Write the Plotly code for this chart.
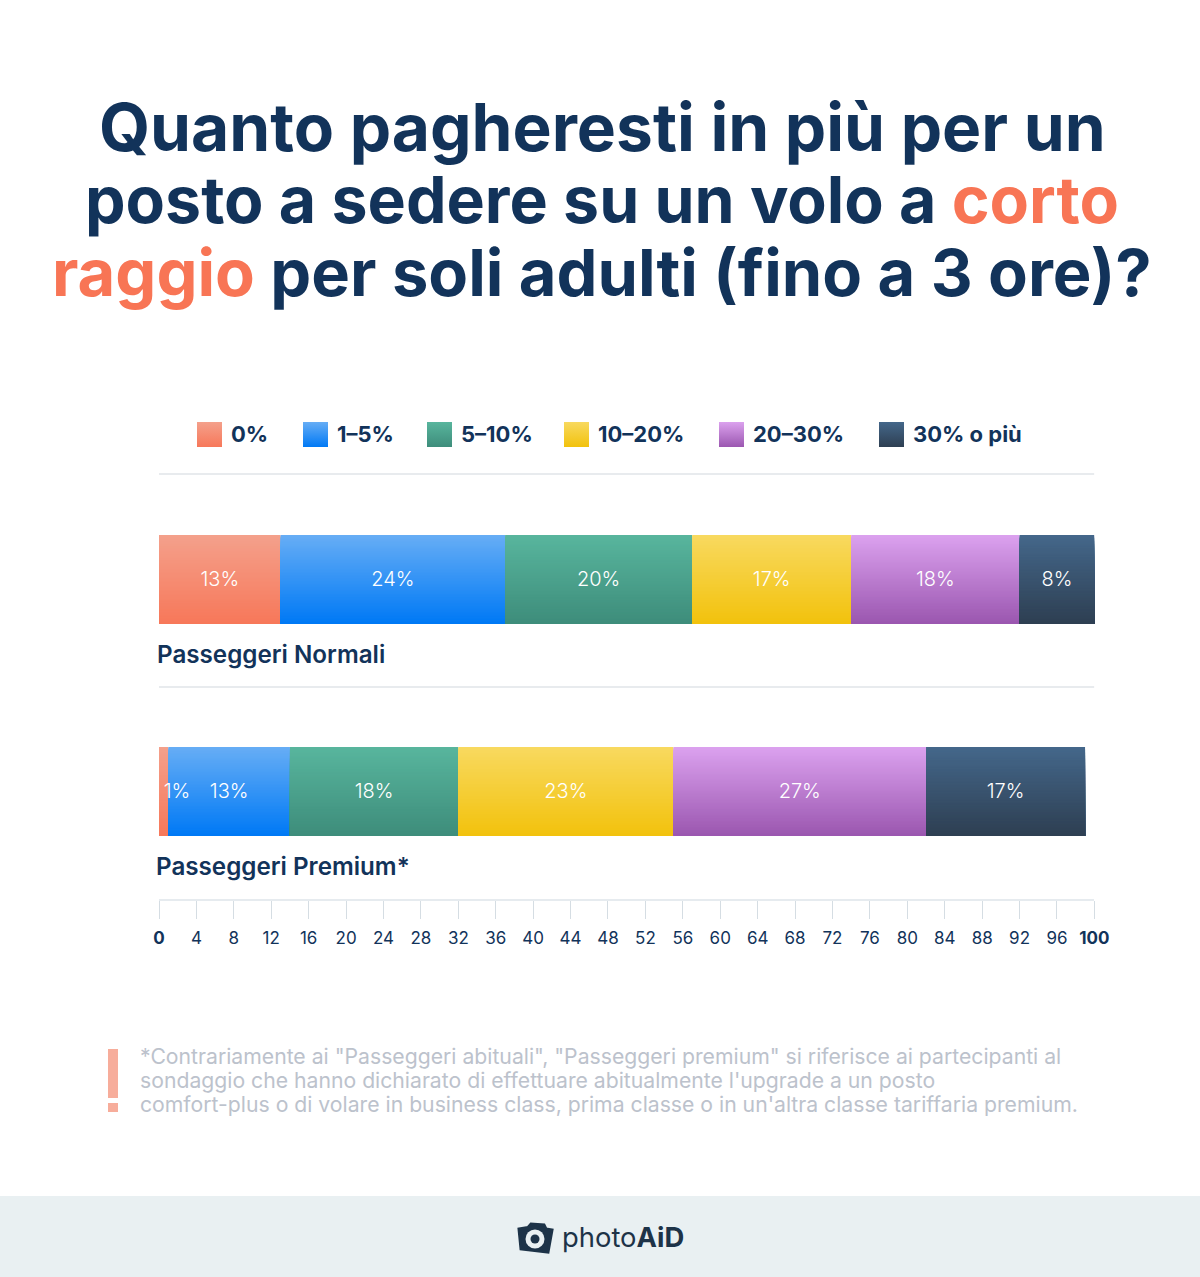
import plotly.graph_objects as go

W, H = 1200, 1277
FONT = "Inter"
NAVY = "#12335a"
ORANGE = "#f87555"

# ---- data ----
series_names = ["0%", "1–5%", "5–10%", "10–20%", "20–30%", "30% o più"]
row_names = ["Passeggeri Normali", "Passeggeri Premium*"]
normali = [13, 24, 20, 17, 18, 8]
premium = [1, 13, 18, 23, 27, 17]
grad_top = ["#f4a08b", "#66adf5", "#58b59d", "#f8d95f", "#dba1ee", "#44678a"]
grad_bot = ["#f7785a", "#0079f5", "#3e8d7b", "#f2c20d", "#9b57b0", "#2e3f52"]
tick_vals = list(range(0, 101, 4))
legend_x = [209.5, 315.5, 439.5, 576.5, 731.5, 891.5]
title_lines = [
    "Quanto pagheresti in più per un",
    f'posto a sedere su un volo a <span style="color:{ORANGE}">corto</span>',
    f'<span style="color:{ORANGE}">raggio</span> per soli adulti (fino a 3 ore)?',
]
note_lines = [
    '*Contrariamente ai "Passeggeri abituali", "Passeggeri premium" si riferisce ai partecipanti al',
    "sondaggio che hanno dichiarato di effettuare abitualmente l'upgrade a un posto",
    "comfort-plus o di volare in business class, prima classe o in un'altra classe tariffaria premium.",
]

N_SLICES = 60
BAR_H = 89 / 212
rows = [1, 0]
row_values = [normali, premium]


def px(x):
    return x / W


def py(y):
    return 1 - y / H


def hex2rgb(c):
    return [int(c[i:i + 2], 16) for i in (1, 3, 5)]


def mix(a, b, t):
    ca, cb = hex2rgb(a), hex2rgb(b)
    return "rgb(%d,%d,%d)" % tuple(round(p + (q - p) * t) for p, q in zip(ca, cb))


fig = go.Figure()

# gradient bars: each later slice covers the lower part of the one before it
for si, name in enumerate(series_names):
    xs = [vals[si] for vals in row_values]
    bases = [sum(vals[:si]) for vals in row_values]
    for k in range(N_SLICES):
        t = k / (N_SLICES - 1)
        fig.add_bar(
            x=xs, y=rows, base=bases, orientation="h",
            width=BAR_H * (N_SLICES - k) / N_SLICES, offset=-BAR_H / 2,
            marker=dict(color=mix(grad_top[si], grad_bot[si], t), line_width=0),
            showlegend=False, hoverinfo="skip", name=name,
        )

# value labels
for vals, r in zip(row_values, rows):
    mids, texts, pos = [], [], []
    for i, v in enumerate(vals):
        mids.append(sum(vals[:i]) + v / 2)
        texts.append(f"{v}%")
        pos.append("middle right" if v < 3 else "middle center")
    fig.add_scatter(
        x=mids, y=[r - 0.008] * len(vals), mode="text", text=texts, textposition=pos,
        textfont=dict(family=FONT, size=20, color="white", weight=300),
        showlegend=False, hoverinfo="skip",
    )

# legend swatches on a page-sized overlay axis
for i, name in enumerate(series_names):
    fig.add_scatter(
        x=[legend_x[i]], y=[434.5], xaxis="x2", yaxis="y2", mode="markers",
        marker=dict(symbol="square", size=25, color=grad_top[i], line_width=0,
                    gradient=dict(type="vertical", color=grad_bot[i])),
        showlegend=False, hoverinfo="skip", name=name,
    )
    fig.add_annotation(
        text=name, x=px(legend_x[i] + 19.5), y=py(434), xref="paper", yref="paper",
        xanchor="left", yanchor="middle", showarrow=False,
        font=dict(family=FONT, size=22, color=NAVY, weight=700),
    )

# row labels
for name, r, lx, ly in zip(row_names, rows, [155, 154], [654.5, 866.5]):
    fig.add_annotation(
        text=name, x=px(lx), y=py(ly), xref="paper", yref="paper",
        xanchor="left", yanchor="middle", showarrow=False,
        font=dict(family=FONT, size=24.2, color=NAVY, weight=600),
    )

# title
for line, ly, fs in zip(title_lines, [127, 200, 272], [65.8, 64.4, 65]):
    fig.add_annotation(
        text=line, x=0.502, y=py(ly), xref="paper", yref="paper",
        xanchor="center", yanchor="middle", showarrow=False,
        font=dict(family=FONT, size=fs, color=NAVY, weight=700),
    )

# footnote
for line, ly in zip(note_lines, [1056, 1080, 1104]):
    fig.add_annotation(
        text=line, x=px(138), y=py(ly), xref="paper", yref="paper",
        xanchor="left", yanchor="middle", showarrow=False,
        font=dict(family=FONT, size=21.2, color="#bcc2cc"),
    )

# logo text
fig.add_annotation(
    text="photo<b>AiD</b>", x=px(560), y=py(1237), xref="paper", yref="paper",
    xanchor="left", yanchor="middle", showarrow=False,
    font=dict(family=FONT, size=27.4, color="#1d3348"),
)


def prect(x0, y0, x1, y1, color):
    return dict(type="rect", xref="paper", yref="paper", x0=px(x0), x1=px(x1),
                y0=py(y0), y1=py(y1), fillcolor=color, line_width=0, layer="below")


def pcircle(cx, cy, r, color):
    return dict(type="circle", xref="paper", yref="paper", x0=px(cx - r), x1=px(cx + r),
                y0=py(cy + r), y1=py(cy - r), fillcolor=color, line_width=0, layer="above")


camera = [(519, 1229), (528, 1227.5), (531, 1224), (544, 1225), (546, 1229),
          (552, 1230), (548, 1252), (521, 1249)]
cam_path = "M " + " L ".join(f"{px(a):.5f},{py(b):.5f}" for a, b in camera) + " Z"

shapes = [
    prect(0, 1196, W, H, "#e9f0f2"),
    prect(108, 1049, 118, 1098, "#f7ad9b"),
    prect(108, 1103, 118, 1112, "#f7ad9b"),
    dict(type="path", xref="paper", yref="paper", path=cam_path, fillcolor="#1d3348",
         line=dict(color="#1d3348", width=3), layer="above"),
    pcircle(535, 1239, 9.5, "#e9f0f2"),
    pcircle(535, 1239, 4.5, "#1d3348"),
    dict(type="line", xref="x", yref="paper", x0=0, x1=100, y0=py(474), y1=py(474),
         line=dict(color="#e8ebee", width=2), layer="below"),
    dict(type="line", xref="x", yref="paper", x0=0, x1=100, y0=py(687), y1=py(687),
         line=dict(color="#e8ebee", width=2), layer="below"),
]

tick_text = [f"<b>{v}</b>" if v in (0, 100) else str(v) for v in tick_vals]

fig.update_layout(
    width=W, height=H, margin=dict(l=0, r=0, t=0, b=0, pad=0, autoexpand=False),
    paper_bgcolor="white", plot_bgcolor="rgba(0,0,0,0)", barmode="overlay",
    showlegend=False, shapes=shapes,
    xaxis=dict(
        domain=[px(159), px(1094.4)], range=[0, 100], tickmode="array",
        tickvals=tick_vals, ticktext=tick_text, ticks="outside", ticklen=18,
        tickcolor="#d5dde3", tickwidth=1, showgrid=False, zeroline=False,
        showline=True, linecolor="#e6ebef", linewidth=2,
        tickfont=dict(family=FONT, size=17, color=NAVY), ticklabelstandoff=5,
    ),
    yaxis=dict(
        domain=[py(899), py(474)], range=[-107.5 / 212, 1 + 105.5 / 212],
        visible=False, fixedrange=True,
    ),
    xaxis2=dict(domain=[0, 1], range=[0, W], visible=False, anchor="y2"),
    yaxis2=dict(domain=[0, 1], range=[H, 0], visible=False, anchor="x2"),
)

fig.write_html("out.html", config={"displayModeBar": False},
               post_script="document.body.style.margin='0';")
